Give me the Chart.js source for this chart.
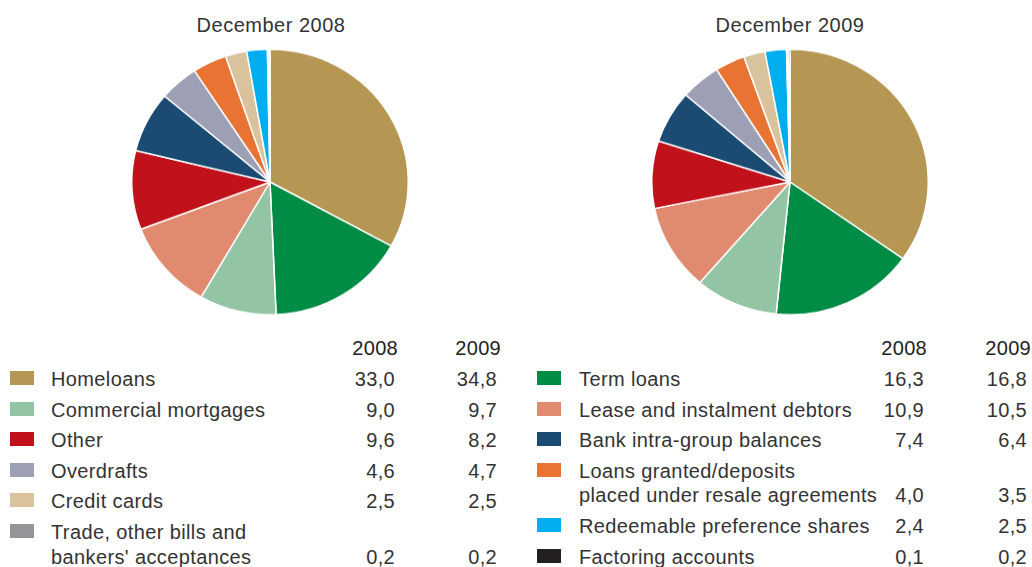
<!DOCTYPE html>
<html>
<head>
<meta charset="utf-8">
<script src="https://cdn.jsdelivr.net/npm/chart.js@4/dist/chart.umd.min.js"></script>
<style>
  html, body { margin: 0; padding: 0; background: #fff; }
  body { width: 1032px; height: 567px; position: relative; overflow: hidden;
         font-family: "Liberation Sans", Arial, Helvetica, sans-serif; color: #333; }
  .title { position: absolute; top: 14px; width: 300px; text-align: center; font-size: 20px; letter-spacing: 0.5px; color: #333; }
  .pie { position: absolute; top: 43px; width: 278px; height: 278px; transform: scaleY(0.96); transform-origin: 50% 50%; }
  .txt { position: absolute; font-size: 20px; letter-spacing: 0.38px; line-height: 24px; white-space: nowrap; }
  .num { position: absolute; font-size: 20px; letter-spacing: 0.3px; line-height: 24px; text-align: right; width: 80px; white-space: nowrap; }
  .hdr { color: #222; }
  .sw { position: absolute; width: 24px; height: 14px; }
</style>
</head>
<body>
<div class="title" style="left:121px">December 2008</div>
<div class="title" style="left:640px">December 2009</div>
<canvas id="pie2008" class="pie" width="278" height="278" style="left:131px"></canvas>
<canvas id="pie2009" class="pie" width="278" height="278" style="left:651px"></canvas>
<div id="legend"></div>
<script>
// Loan book composition (%), in slice order clockwise from 12 o'clock
const categories = [
  "Homeloans",
  "Term loans",
  "Commercial mortgages",
  "Lease and instalment debtors",
  "Other",
  "Bank intra-group balances",
  "Overdrafts",
  "Loans granted/deposits\nplaced under resale agreements",
  "Credit cards",
  "Redeemable preference shares",
  "Trade, other bills and\nbankers' acceptances",
  "Factoring accounts"
];
const values2008 = [33.0, 16.3, 9.0, 10.9, 9.6, 7.4, 4.6, 4.0, 2.5, 2.4, 0.2, 0.1];
const values2009 = [34.8, 16.8, 9.7, 10.5, 8.2, 6.4, 4.7, 3.5, 2.5, 2.5, 0.2, 0.2];
const colors = [
  "#B59753", "#008C45", "#93C4A3", "#E08A70", "#C1121C", "#1B4B73",
  "#9DA0B5", "#E97332", "#D8C39C", "#00ADEF", "#939598", "#231F20"
];
const yearLabels = ["2008", "2009"];

function makePie(id, values) {
  new Chart(document.getElementById(id), {
    type: "pie",
    data: {
      labels: categories.map(c => c.replace("\n", " ")),
      datasets: [{
        data: values,
        backgroundColor: colors,
        borderColor: "#ffffff",
        borderWidth: 1.5
      }]
    },
    options: {
      responsive: false,
      animation: false,
      layout: { padding: 0 },
      plugins: { legend: { display: false }, tooltip: { enabled: false } }
    }
  });
}
makePie("pie2008", values2008);
makePie("pie2009", values2009);

// Two-column table legend: even slices on the left, odd slices on the right
const fmt = v => v.toFixed(1).replace(".", ",");
const legend = document.getElementById("legend");
function add(cls, style, text) {
  const d = document.createElement("div");
  d.className = cls;
  d.setAttribute("style", style);
  if (text !== undefined) d.textContent = text;
  legend.appendChild(d);
  return d;
}
const columns = [
  { sw: 10, text: 51, n1: 315, n2: 417 },
  { sw: 537, text: 579, n1: 844, n2: 947 }
];
columns.forEach((col, ci) => {
  add("num hdr", `left:${col.n1 + 3}px;top:336px`, yearLabels[0]);
  add("num hdr", `left:${col.n2 + 4}px;top:336px`, yearLabels[1]);
  let y = 367;
  for (let i = ci; i < categories.length; i += 2) {
    const lines = categories[i].split("\n");
    add("sw", `left:${col.sw}px;top:${y + 4}px;background:${colors[i]}`);
    lines.forEach((ln, k) => add("txt", `left:${col.text}px;top:${y + k * 24.5}px`, ln));
    const ly = y + (lines.length - 1) * 24.5;
    add("num", `left:${col.n1}px;top:${ly}px`, fmt(values2008[i]));
    add("num", `left:${col.n2}px;top:${ly}px`, fmt(values2009[i]));
    y = ly + 30.6;
  }
});
</script>
</body>
</html>
